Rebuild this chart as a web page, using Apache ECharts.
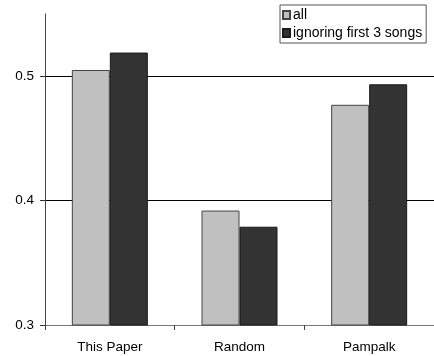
<!DOCTYPE html>
<html>
<head>
<meta charset="utf-8">
<script src="https://cdn.jsdelivr.net/npm/echarts@6/dist/echarts.min.js"></script>
<style>html,body{margin:0;padding:0;background:#fff}#c{width:434px;height:356px}</style>
</head>
<body>
<div id="c"></div>
<script>
const categories = ['This Paper', 'Random', 'Pampalk'];
const seriesNames = ['all', 'ignoring first 3 songs'];
const allValues = [0.505, 0.392, 0.477];
const ignoringValues = [0.519, 0.379, 0.4935];
const yMin = 0.3, yMax = 0.55, yStep = 0.1;

const chart = echarts.init(document.getElementById('c'), null, {renderer: 'canvas'});
const font = 'Liberation Sans, Arial, sans-serif';
chart.setOption({
  animation: false,
  textStyle: {fontFamily: font},
  grid: {left: 45, top: 14, bottom: 31, width: 393},
  legend: {
    orient: 'vertical', left: 280, top: 5,
    data: seriesNames,
    icon: 'rect', itemWidth: 7, itemHeight: 8, itemGap: 4,
    padding: [3, 4, 3, 2],
    borderColor: '#555', borderWidth: 1,
    textStyle: {fontSize: 14, color: '#000', fontFamily: font, padding: [0, 0, 0, -2]},
    selectedMode: false
  },
  xAxis: {
    type: 'category', data: categories,
    axisLine: {lineStyle: {color: '#777', width: 1}},
    axisTick: {show: true, length: 5, lineStyle: {color: '#444'}},
    axisLabel: {color: '#000', fontSize: 13.5, margin: 15, fontFamily: font}
  },
  yAxis: {
    type: 'value', min: yMin, max: yMax, interval: yStep,
    axisLine: {show: true, lineStyle: {color: '#444', width: 1}},
    axisTick: {show: true, length: 5, lineStyle: {color: '#333'}},
    axisLabel: {color: '#000', fontSize: 13.5, margin: 11, fontFamily: font, showMaxLabel: false,
      formatter: v => v.toFixed(1)},
    splitLine: {show: true, showMinLine: false, showMaxLine: false, lineStyle: {color: '#000', width: 1}}
  },
  series: [
    {name: seriesNames[0], type: 'bar', data: allValues, barWidth: 38, barGap: '0%',
     itemStyle: {color: '#c0c0c0', borderColor: '#444', borderWidth: 1}},
    {name: seriesNames[1], type: 'bar', data: ignoringValues, barWidth: 38, barGap: '0%',
     itemStyle: {color: '#333333', borderColor: '#1a1a1a', borderWidth: 1}}
  ]
});
</script>
</body>
</html>
